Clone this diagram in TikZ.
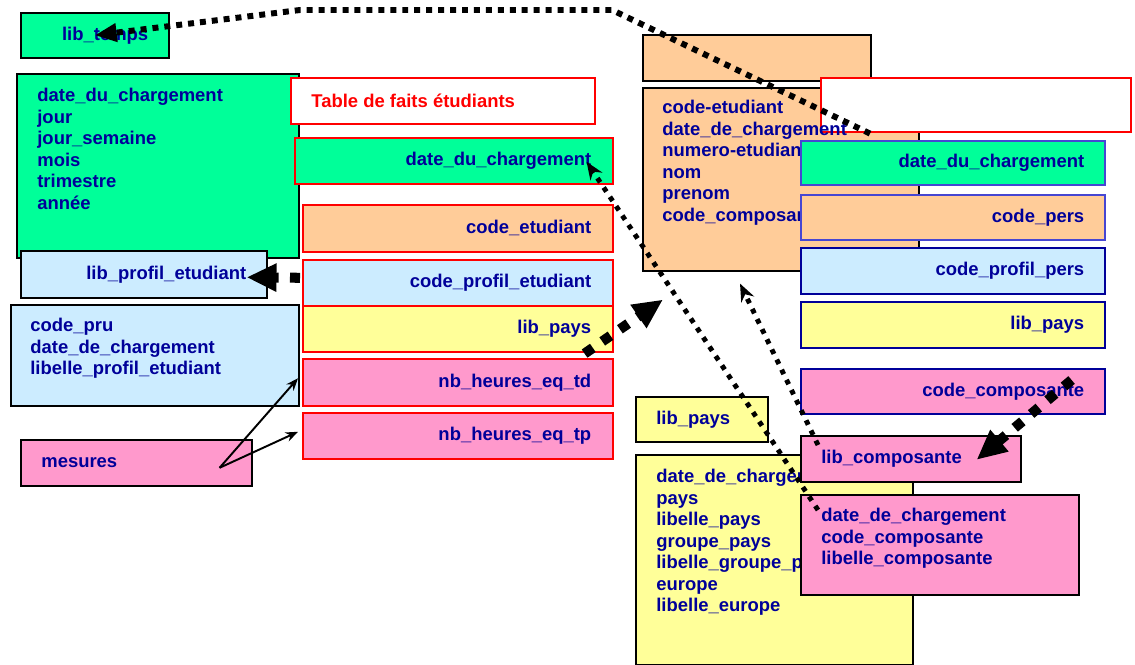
\documentclass[tikz,border=0pt]{standalone}
\usepackage{fontspec}
\setmainfont{Liberation Sans}
\usetikzlibrary{arrows.meta}
\definecolor{vert}{RGB}{0,255,153}
\definecolor{saumon}{RGB}{255,204,153}
\definecolor{ciel}{RGB}{204,236,255}
\definecolor{jaune}{RGB}{255,255,153}
\definecolor{rose}{RGB}{255,153,204}
\definecolor{marine}{RGB}{0,0,153}
\definecolor{lavande}{RGB}{70,70,210}
\newcommand\champ{\fontsize{10.5}{12.25}\selectfont\bfseries}

\tikzset{
  boite/.style 2 args={draw, line width=0.9pt, anchor=north west, inner sep=0pt,
    minimum width=#1*0.02cm, minimum height=#2*0.02cm},
  texte/.style={inner sep=0pt, font=\champ, text=marine},
  liste/.style={texte, anchor=north west, align=left},
  droite/.style={texte, anchor=east},
  gauche/.style={texte, anchor=west},
  gros/.style={line width=5.7pt, dash pattern=on 5.7pt off 6.5pt,
    -{Triangle[length=17pt,width=15pt]}},
  moyen/.style={line width=3.4pt, dash pattern=on 3.4pt off 3.4pt,
    -{Triangle[length=12.5pt,width=10pt]}},
  fin/.style={line width=2.8pt, dash pattern=on 2.8pt off 3.6pt,
    -{Stealth[length=10pt,width=8pt]}},
  fleche/.style={line width=1.1pt, -{Stealth[length=7pt,width=5.5pt]}},
}

\begin{document}
\begin{tikzpicture}[x=0.02cm, y=-0.02cm]
  \path[use as bounding box, fill=white] (0,0) rectangle (1135,665);

  \node[boite={282}{184}, fill=vert] (dimtemps) at (16,73) {};
  \node[liste] (dimtemps-t) at ([shift={(21,15)}]dimtemps.north west)
    {date\_du\_chargement\\jour\\jour\_semaine\\mois\\trimestre\\année};
  \node[boite={148}{45}, fill=vert] (libtemps) at (20,12) {};
  \node[droite] (libtemps-t) at ([shift={(-21,0)}]libtemps.east) {lib\_temps};

  \node[boite={304}{46}, draw=red, fill=white] (titre) at (290,77) {};
  \node[gauche, text=red] (titre-t) at ([shift={(21,0)}]titre.west) {Table de faits étudiants};
  \node[boite={318}{46}, draw=red, fill=vert] (fdate) at (294,137) {};
  \node[droite] (fdate-t) at ([shift={(-22,0)}]fdate.east) {date\_du\_chargement};
  \node[boite={310}{47}, draw=red, fill=saumon] (fcode) at (302,204) {};
  \node[droite] (fcode-t) at ([shift={(-22,0)}]fcode.east) {code\_etudiant};
  \node[boite={246}{47}, fill=ciel] (libprofil) at (20,250) {};
  \node[droite] (libprofil-t) at ([shift={(-21,0)}]libprofil.east) {lib\_profil\_etudiant};
  \node[boite={310}{46}, draw=red, fill=ciel] (fprofil) at (302,259) {};
  \node[droite] (fprofil-t) at ([shift={(-22,0)}]fprofil.east) {code\_profil\_etudiant};
  \node[boite={288}{101}, fill=ciel] (dimprofil) at (10,304) {};
  \node[liste] (dimprofil-t) at ([shift={(20,14)}]dimprofil.north west)
    {code\_pru\\date\_de\_chargement\\libelle\_profil\_etudiant};
  \node[boite={310}{46}, draw=red, fill=jaune] (fpays) at (302,305) {};
  \node[droite] (fpays-t) at ([shift={(-22,0)}]fpays.east) {lib\_pays};
  \node[boite={310}{47}, draw=red, fill=rose] (ftd) at (302,358) {};
  \node[droite] (ftd-t) at ([shift={(-22,0)}]ftd.east) {nb\_heures\_eq\_td};
  \node[boite={310}{46}, draw=red, fill=rose] (ftp) at (302,412) {};
  \node[droite] (ftp-t) at ([shift={(-22,0)}]ftp.east) {nb\_heures\_eq\_tp};
  \node[boite={231}{46}, fill=rose] (mesures) at (20,439) {};
  \node[gauche] (mesures-t) at ([shift={(21,0)}]mesures.west) {mesures};

  \node[boite={228}{46}, fill=saumon] (etutop) at (642,34) {};
  \node[boite={276}{183}, fill=saumon] (dimetu) at (642,87) {};
  \node[boite={310}{54}, draw=red, fill=white] (vide) at (820,77) {};
  \node[liste] (dimetu-t) at ([shift={(20,13)}]dimetu.north west)
    {code-etudiant\\date\_de\_chargement\\numero-etudiant\\nom\\prenom\\code\_composante};
  \node[boite={304}{44}, draw=lavande, fill=vert] (pdate) at (800,140) {};
  \node[droite] (pdate-t) at ([shift={(-21,0)}]pdate.east) {date\_du\_chargement};
  \node[boite={304}{45}, draw=lavande, fill=saumon] (pcode) at (800,194) {};
  \node[droite] (pcode-t) at ([shift={(-21,0)}]pcode.east) {code\_pers};
  \node[boite={304}{46}, draw=marine, fill=ciel] (pprofil) at (800,247) {};
  \node[droite] (pprofil-t) at ([shift={(-21,0)}]pprofil.east) {code\_profil\_pers};
  \node[boite={304}{46}, draw=marine, fill=jaune] (ppays) at (800,301) {};
  \node[droite] (ppays-t) at ([shift={(-21,0)}]ppays.east) {lib\_pays};
  \node[boite={304}{45}, draw=marine, fill=rose] (pcomp) at (800,368) {};
  \node[droite] (pcomp-t) at ([shift={(-21,0)}]pcomp.east) {code\_composante};

  \node[boite={132}{45}, fill=jaune] (libpays) at (635,396) {};
  \node[gauche] (libpays-t) at ([shift={(21,0)}]libpays.west) {lib\_pays};
  \node[boite={277}{210}, fill=jaune] (dimpays) at (635,454) {};
  \node[liste] (dimpays-t) at ([shift={(21,15)}]dimpays.north west)
    {date\_de\_chargement\\pays\\libelle\_pays\\groupe\_pays\\libelle\_groupe\_pays\\europe\\libelle\_europe};
  \node[boite={220}{46}, fill=rose] (libcomp) at (800,435) {};
  \node[gauche] (libcomp-t) at ([shift={(21,0)}]libcomp.west) {lib\_composante};
  \node[boite={278}{100}, fill=rose] (dimcomp) at (800,494) {};
  \node[liste] (dimcomp-t) at ([shift={(21,14)}]dimcomp.north west)
    {date\_de\_chargement\\code\_composante\\libelle\_composante};

  \draw[moyen] ([shift={(50,1)}]vide.south west) -- (612,10) -- (300,10) -- (libtemps.center);
  \draw[gros] ([shift={(-2,-5)}]fprofil.west) -- ([shift={(-21,3)}]libprofil.east);
  \draw[gros] ([shift={(-29,1)}]fpays.south east) -- ([shift={(21,28)}]dimetu.south west);
  \draw[fin] ([shift={(18,16)}]dimcomp.north west) -- ([shift={(-27,1)}]fdate.east);
  \draw[fin] ([shift={(18,10)}]libcomp.north west) -- ([shift={(98,12)}]dimetu.south west);
  \draw[gros] ([shift={(-34,12)}]pcomp.north east) -- ([shift={(-45,1)}]libcomp.east);
  \draw[fleche] ([shift={(-33,5)}]mesures.east) -- ([shift={(-4,-4)}]ftd.west);
  \draw[fleche] ([shift={(-33,5)}]mesures.east) -- ([shift={(-4,-4)}]ftp.west);
\end{tikzpicture}
\end{document}
